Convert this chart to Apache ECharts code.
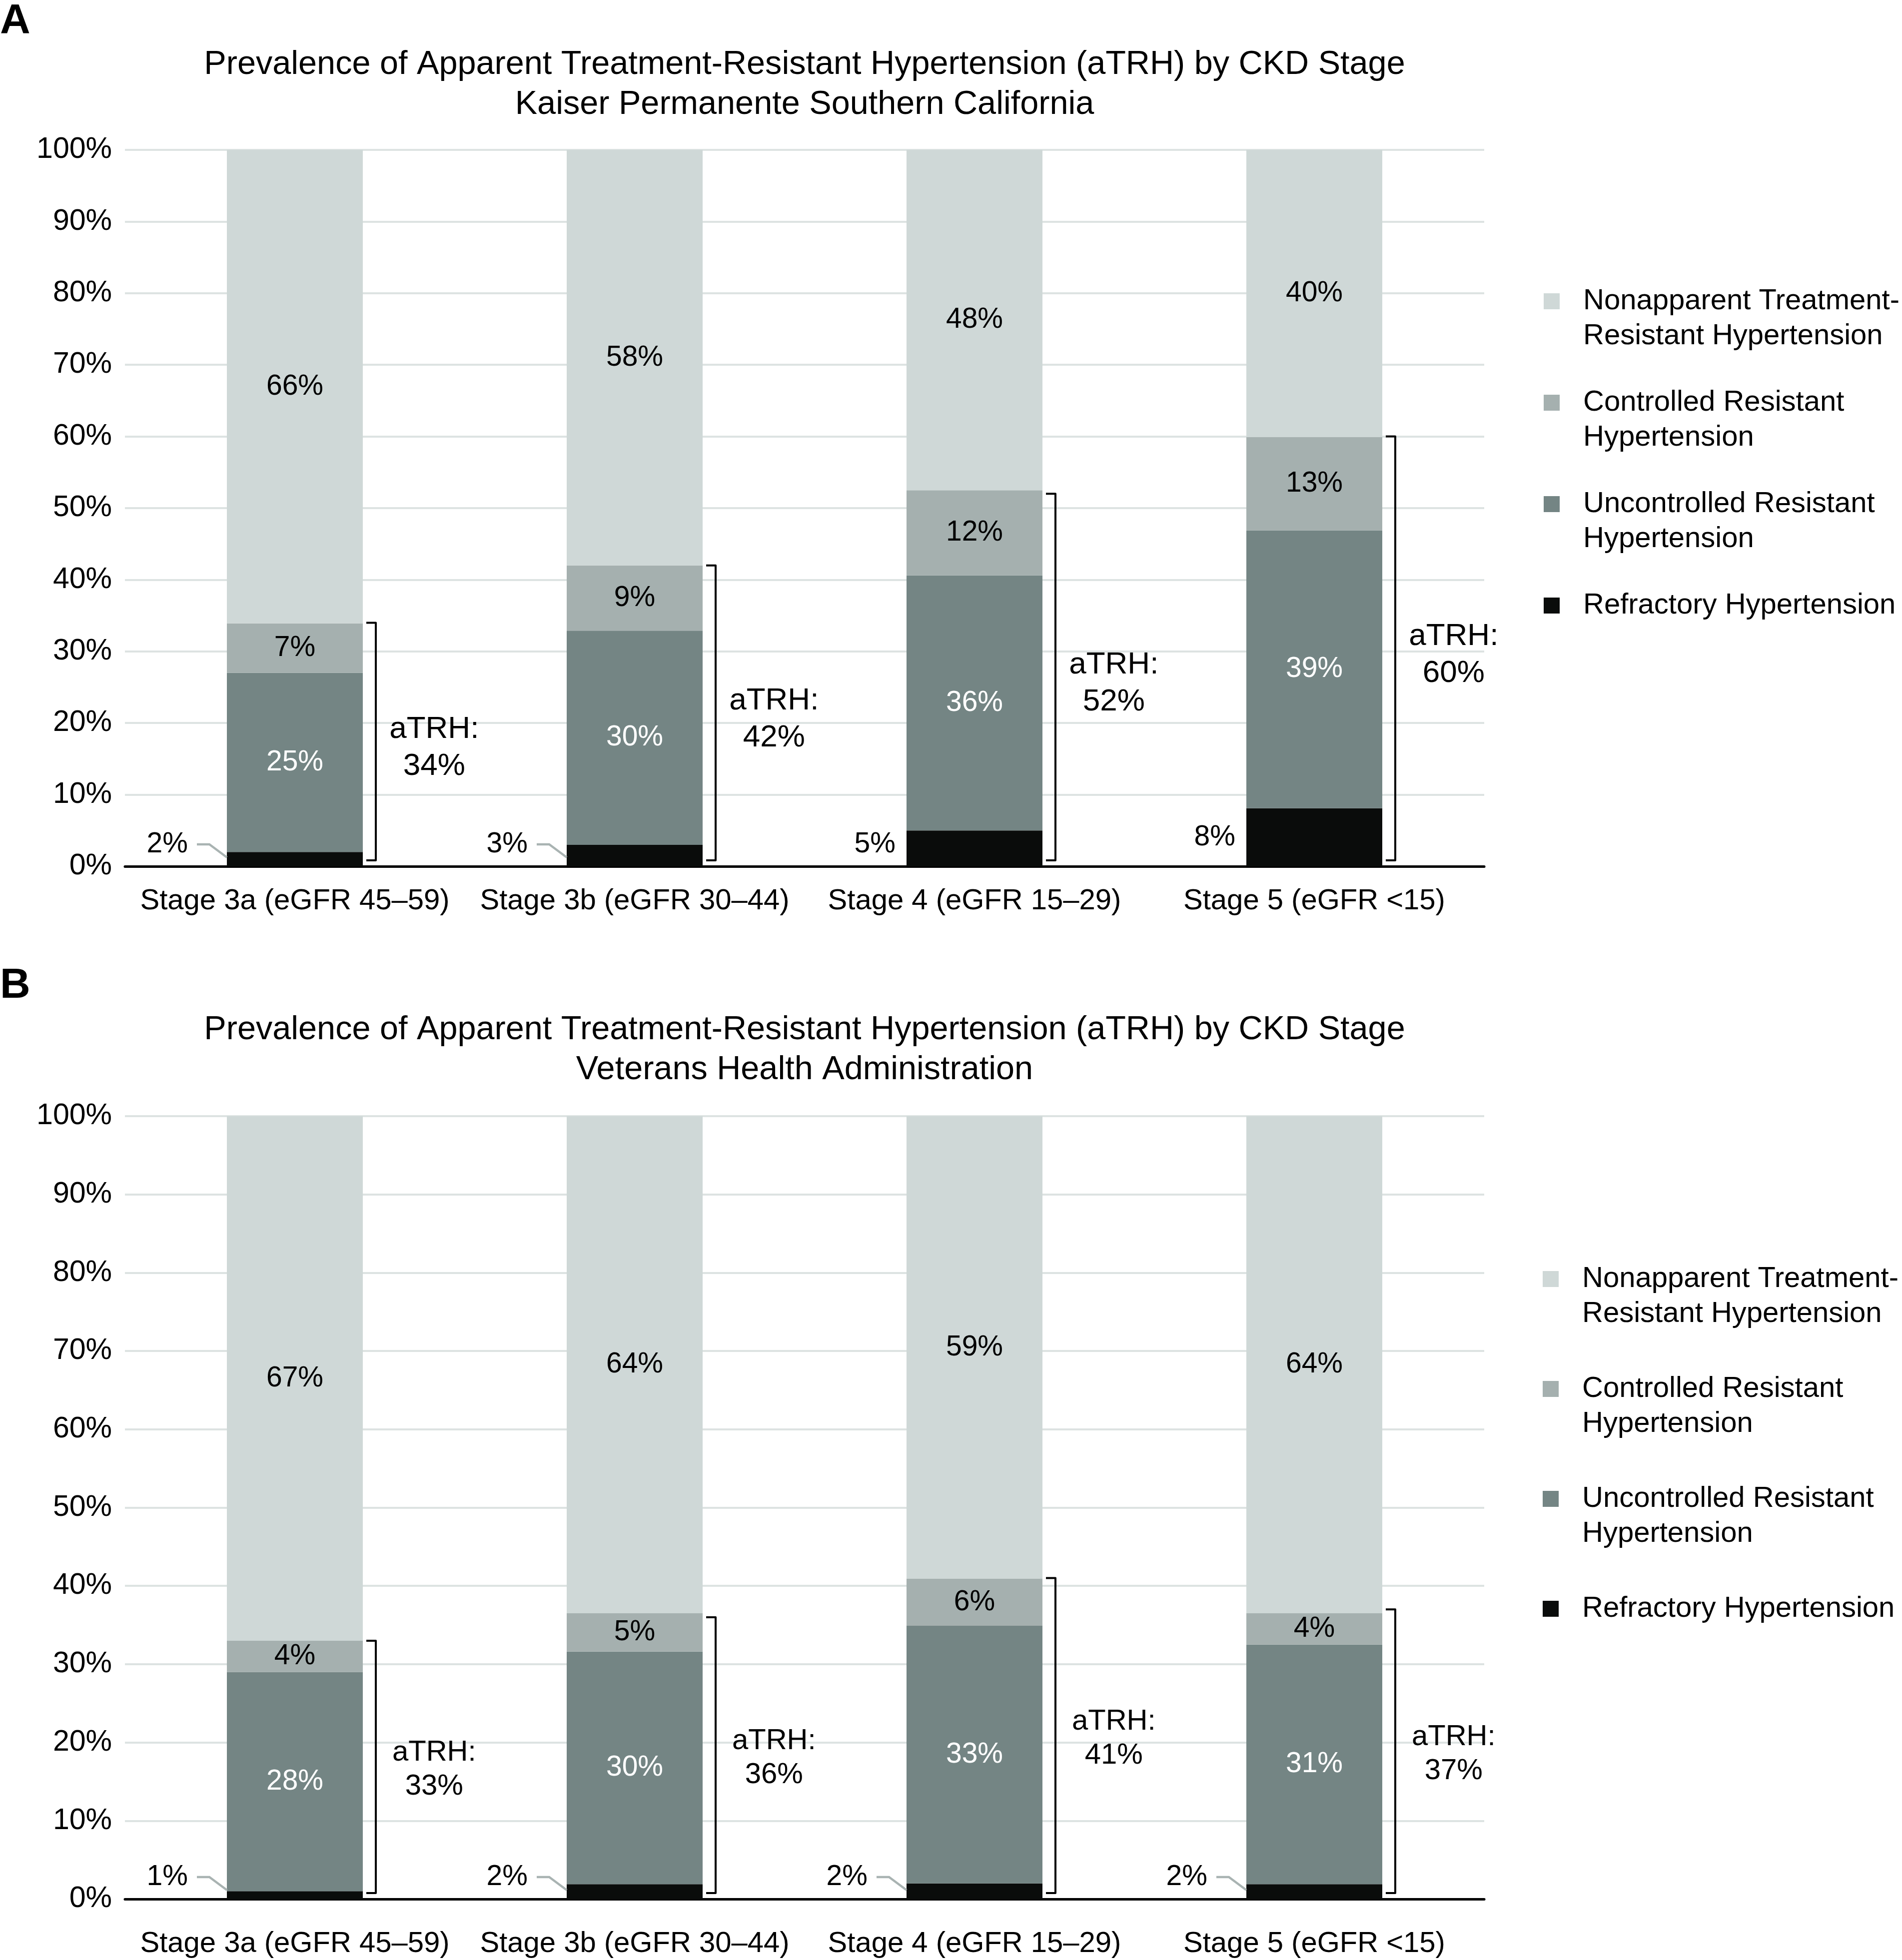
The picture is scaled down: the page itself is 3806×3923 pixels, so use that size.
<!DOCTYPE html>
<html><head><meta charset="utf-8">
<script src="https://cdn.jsdelivr.net/npm/echarts@6/dist/echarts.min.js"></script>
<style>html,body{margin:0;padding:0;background:#fff}#c{width:3806px;height:3923px}</style>
</head><body><div id="c"></div>
<script>
// ---------- data ----------
const categories = ['Stage 3a (eGFR 45\u201359)', 'Stage 3b (eGFR 30\u201344)', 'Stage 4 (eGFR 15\u201329)', 'Stage 5 (eGFR <15)'];
const seriesNames = ['Nonapparent Treatment-Resistant Hypertension', 'Controlled Resistant Hypertension', 'Uncontrolled Resistant Hypertension', 'Refractory Hypertension'];
const legendLines = [['Nonapparent Treatment-', 'Resistant Hypertension'], ['Controlled Resistant', 'Hypertension'], ['Uncontrolled Resistant', 'Hypertension'], ['Refractory Hypertension']];
const titleA = ['Prevalence of Apparent Treatment-Resistant Hypertension (aTRH) by CKD Stage', 'Kaiser Permanente Southern California'];
const titleB = ['Prevalence of Apparent Treatment-Resistant Hypertension (aTRH) by CKD Stage', 'Veterans Health Administration'];

// Panel A: Kaiser Permanente Southern California (% of patients)
const kpRefractory   = [2.0, 3.0, 5.0, 8.1];
const kpUncontrolled = [25.0, 29.9, 35.6, 38.8];
const kpControlled   = [6.9, 9.1, 11.9, 13.0];
const kpNonapparent  = [66.1, 58.0, 47.5, 40.1];
const kpATRH         = [34, 42, 52, 60];

// Panel B: Veterans Health Administration (% of patients)
const vaRefractory   = [1.0, 1.9, 2.0, 1.9];
const vaUncontrolled = [28.0, 29.7, 32.9, 30.6];
const vaControlled   = [4.0, 4.9, 6.0, 4.0];
const vaNonapparent  = [67.0, 63.5, 59.1, 63.5];
const vaATRH         = [33, 36, 41, 37];

// ---------- style ----------
const FONT = 'Liberation Sans';
const colors = { non: '#cfd8d7', ctrl: '#a5b0af', unc: '#748584', ref: '#0a0c0b' };
const BAR_FRAC = 0.4;

function pct(p) { return Math.round(p.value) + '%'; }

function refLabelRender(params, api) {
  const cat = api.value(0), v = api.value(1);
  const base = api.coord([cat, 0]);
  const band = api.size([1, 0])[0];
  const bx = base[0] - band * BAR_FRAC / 2;
  const axisY = base[1];
  const mid = api.coord([cat, v / 2])[1];
  const small = v < 4;
  const ly = Math.min(axisY - 44, mid);
  const children = [{
    type: 'text',
    style: { text: Math.round(v) + '%', x: bx - (small ? 78 : 22), y: ly, align: 'right', verticalAlign: 'middle',
      fill: '#000', fontSize: 57, fontFamily: FONT }
  }];
  if (small) {
    children.push({ type: 'polyline', shape: { points: [[bx - 60, ly], [bx - 35, ly], [bx, ly + 26]] },
      style: { stroke: '#a9b3b2', lineWidth: 4.5, fill: null } });
  }
  return { type: 'group', children };
}

function bracketRender(fontSize, lineHeight, dy) {
  return function (params, api) {
    const cat = api.value(0), v = api.value(1);
    const base = api.coord([cat, 0]);
    const top = api.coord([cat, v]);
    const band = api.size([1, 0])[0];
    const rx = base[0] + band * BAR_FRAC / 2;
    const x0 = rx + 7, x1 = rx + 26, yb = base[1] - 12, yt = top[1];
    const labelY = api.coord([cat, v / 2])[1] + dy;
    return { type: 'group', children: [
      { type: 'polyline', shape: { points: [[x0, yt], [x1, yt], [x1, yb], [x0, yb]] },
        style: { stroke: '#000', lineWidth: 4, fill: null, lineJoin: 'round' } },
      { type: 'text', style: { text: 'aTRH:\n' + v + '%', x: base[0] + band * 0.41, y: labelY, align: 'center',
        verticalAlign: 'middle', fill: '#000', fontSize: fontSize, lineHeight: lineHeight, fontFamily: FONT } }
    ] };
  };
}

function panelSeries(gi, ref, unc, ctrl, non, atrh, atrhFont, atrhLH, atrhDy) {
  const stack = 'p' + gi;
  const common = { type: 'bar', stack, xAxisIndex: gi, yAxisIndex: gi, barWidth: (BAR_FRAC * 100) + '%' };
  return [
    Object.assign({}, common, { name: seriesNames[3], data: ref, itemStyle: { color: colors.ref }, label: { show: false } }),
    Object.assign({}, common, { name: seriesNames[2], data: unc, itemStyle: { color: colors.unc },
      label: { show: true, position: 'inside', formatter: pct, color: '#fff', fontSize: 57, fontFamily: FONT } }),
    Object.assign({}, common, { name: seriesNames[1], data: ctrl, itemStyle: { color: colors.ctrl },
      label: { show: true, position: 'inside', formatter: pct, color: '#000', fontSize: 57, fontFamily: FONT } }),
    Object.assign({}, common, { name: seriesNames[0], data: non, itemStyle: { color: colors.non },
      label: { show: true, position: 'inside', formatter: pct, color: '#000', fontSize: 57, fontFamily: FONT } }),
    { type: 'custom', name: 'refLabels' + gi, xAxisIndex: gi, yAxisIndex: gi, renderItem: refLabelRender,
      data: ref.map((v, i) => [i, v]), encode: { x: 0, y: 1 }, silent: true, z: 5 },
    { type: 'custom', name: 'aTRH' + gi, xAxisIndex: gi, yAxisIndex: gi, renderItem: bracketRender(atrhFont, atrhLH, atrhDy),
      data: atrh.map((v, i) => [i, v]), encode: { x: 0, y: 1 }, silent: true, z: 5 }
  ];
}

function legendFor(left, top, gap) {
  return {
    orient: 'vertical', left, top, padding: 0, itemWidth: 32, itemHeight: 32, itemGap: gap, icon: 'rect',
    selectedMode: false, data: seriesNames,
    formatter: function (name) {
      const lines = legendLines[seriesNames.indexOf(name)];
      return lines.length > 1 ? ' \n' + lines.join('\n') : ' \n' + lines[0] + '\n ';
    },
    textStyle: { fontSize: 58, lineHeight: 70, color: '#000', fontFamily: FONT, padding: [0, 0, 0, 42] }
  };
}

function xAxisFor(gi, margin) {
  return { type: 'category', gridIndex: gi, data: categories,
    axisLine: { lineStyle: { color: '#000', width: 5 } }, axisTick: { show: false },
    axisLabel: { interval: 0, fontSize: 58, color: '#000', margin, fontFamily: FONT, lineHeight: 64 } };
}
function yAxisFor(gi) {
  return { type: 'value', gridIndex: gi, min: 0, max: 100, interval: 10,
    axisLine: { show: false }, axisTick: { show: false },
    axisLabel: { formatter: '{value}%', fontSize: 59, color: '#000', margin: 26, fontFamily: FONT },
    splitLine: { lineStyle: { color: '#dde3e2', width: 4 } } };
}

const chart = echarts.init(document.getElementById('c'), null, { renderer: 'canvas' });
chart.setOption({
  animation: false,
  backgroundColor: '#fff',
  textStyle: { fontFamily: FONT },
  title: [
    { text: 'A', left: 0, top: 2, padding: 0, textStyle: { fontSize: 84, fontWeight: 'bold', color: '#000', fontFamily: FONT } },
    { text: titleA.join('\n'), left: 1610, textAlign: 'center', top: 90, padding: 0,
      textStyle: { fontSize: 66.6, lineHeight: 80, fontWeight: 'normal', color: '#000', fontFamily: FONT } },
    { text: 'B', left: 0, top: 1932, padding: 0, textStyle: { fontSize: 84, fontWeight: 'bold', color: '#000', fontFamily: FONT } },
    { text: titleB.join('\n'), left: 1610, textAlign: 'center', top: 2022, padding: 0,
      textStyle: { fontSize: 66.6, lineHeight: 80, fontWeight: 'normal', color: '#000', fontFamily: FONT } }
  ],
  legend: [legendFor(3089, 498, -7), legendFor(3087, 2455, 10)],
  grid: [
    { left: 250, width: 2720, top: 300, height: 1434 },
    { left: 250, width: 2720, top: 2234, height: 1578 }
  ],
  xAxis: [xAxisFor(0, 38), xAxisFor(1, 58)],
  yAxis: [yAxisFor(0), yAxisFor(1)],
  series: [].concat(
    panelSeries(0, kpRefractory, kpUncontrolled, kpControlled, kpNonapparent, kpATRH, 62, 74, 7),
    panelSeries(1, vaRefractory, vaUncontrolled, vaControlled, vaNonapparent, vaATRH, 58, 68, 0)
  )
});
</script></body></html>
